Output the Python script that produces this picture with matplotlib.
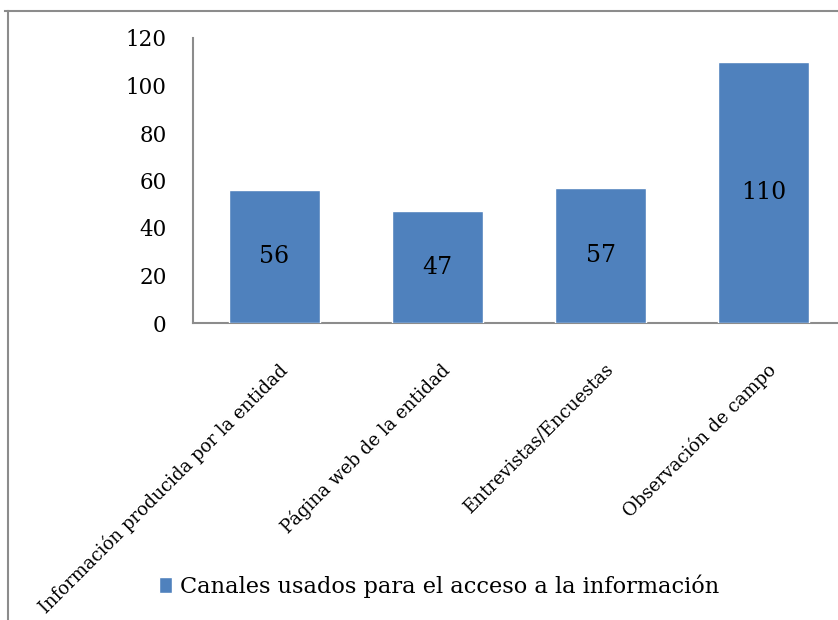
import matplotlib
matplotlib.use("Agg")
import matplotlib.pyplot as plt
from matplotlib.lines import Line2D
from matplotlib.transforms import offset_copy

categories = [
    "Información producida por la entidad",
    "Página web de la entidad",
    "Entrevistas/Encuestas",
    "Observación de campo",
]
values = [56, 47, 57, 110]
series_name = "Canales usados para el acceso a la información"
yticks = [0, 20, 40, 60, 80, 100, 120]

BAR = "#4F81BD"
AXIS = "#8C8C8C"
plt.rcParams["font.family"] = ["DejaVu Serif"]

W, H = 838, 620
fig = plt.figure(figsize=(W / 100, H / 100), dpi=100)
ax = fig.add_axes([193 / W, 1 - 323 / H, (845 - 193) / W, (323 - 38) / H])

xs = list(range(len(categories)))
bars = ax.bar(xs, values, width=0.56, color=BAR, edgecolor="white",
              linewidth=1.0, label=series_name, zorder=3)
for x, v in zip(xs, values):
    ax.text(x, v / 2, str(v), ha="center", va="center", fontsize=17, color="black", zorder=4)

ax.set_xlim(-0.5, 3.5)
ax.set_ylim(0, 120)
ax.set_yticks(yticks)
ax.tick_params(axis="y", length=0, pad=19, labelsize=15.5)
ax.set_xticks([])
for s in ("top", "right"):
    ax.spines[s].set_visible(False)
for s in ("left", "bottom"):
    ax.spines[s].set_color(AXIS)
    ax.spines[s].set_linewidth(1.5)

# rotated category labels
for x, lab in zip(xs, categories):
    tr = offset_copy(ax.get_xaxis_transform(), fig=fig, x=10, y=-44, units="dots")
    ax.text(x, 0, lab, transform=tr, rotation=45, rotation_mode="anchor",
            ha="right", va="center", fontsize=13, color="black")

fig.legend(handles=[bars], labels=[series_name], loc="center",
           bbox_to_anchor=(439 / W, 1 - 586 / H), frameon=False, fontsize=16.2,
           handlelength=0.6, handleheight=0.7, handletextpad=0.35, borderpad=0)

# outer chart border (top and left edges visible)
fig.add_artist(Line2D([5 / W, 1], [1 - 11 / H, 1 - 11 / H], transform=fig.transFigure,
                      color=AXIS, linewidth=1.5))
fig.add_artist(Line2D([8 / W, 8 / W], [0, 1 - 11 / H], transform=fig.transFigure,
                      color=AXIS, linewidth=1.5))

fig.savefig("out.png", dpi=100)
